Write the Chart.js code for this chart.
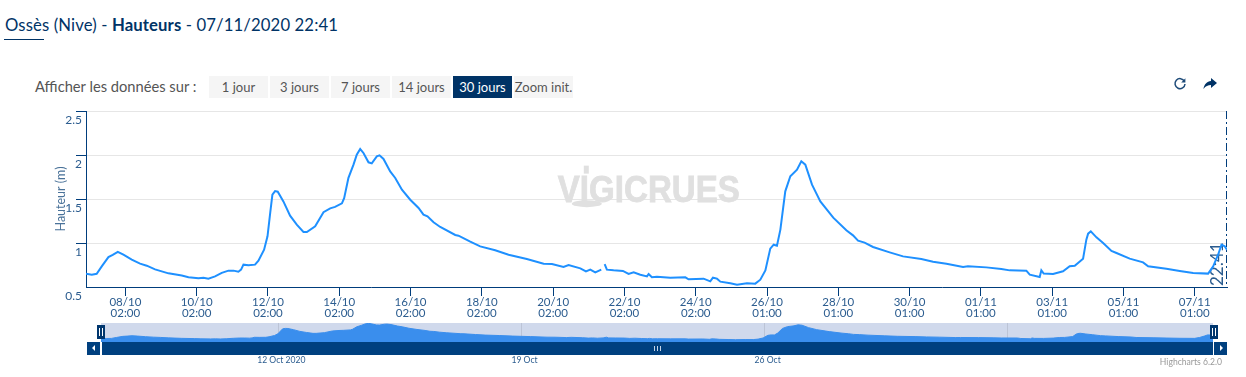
<!DOCTYPE html>
<html lang="fr">
<head>
<meta charset="utf-8">
<title>Ossès (Nive) - Hauteurs</title>
<script src="https://cdn.jsdelivr.net/npm/chart.js@4"></script>
<style>
  html, body { margin: 0; padding: 0; background: #fff; overflow: hidden; }
  body { width: 1246px; height: 377px; position: relative; font-family: Lato, 'Open Sans', sans-serif; color: #003366; }
  canvas { position: absolute; left: 0; }
  .abs { position: absolute; }
  #title { left: 5px; top: 14px; font-size: 16.7px; line-height: 22px; white-space: nowrap; letter-spacing: .12px; }
  #rule { left: 4px; top: 39px; width: 40px; height: 1px; background: #003366; }
  #show { left: 35px; top: 75px; line-height: 22px; font-size: 14.7px; color: #555; white-space: nowrap; }
  .btn { top: 76px; width: 59px; height: 22px; line-height: 22px; background: #f5f5f5; color: #555; font-size: 13px; text-align: center; white-space: nowrap; }
  .btn.on { background: #003366; color: #fff; }
  .bar { background: #00407f; top: 342px; height: 13px; }
  .handle { background: #00366e; top: 325px; width: 8px; height: 14px; }
  .handle i { position: absolute; top: 3px; width: 1px; height: 8px; background: #fff; }
  .tri { width: 0; height: 0; border-top: 3px solid transparent; border-bottom: 3px solid transparent; top: 345px; }
  .grip { top: 346px; width: 1px; height: 5px; background: #c5d3e6; }
  #credit { right: 24px; top: 357px; font-size: 8.6px; color: #999; white-space: nowrap; }
</style>
</head>
<body>
<div class="abs" id="title">Ossès (Nive) - <b>Hauteurs</b> - 07/11/2020 22:41</div>
<div class="abs" id="rule"></div>
<div class="abs" id="show">Afficher les données sur :</div>
<div class="abs btn" style="left:209px">1 jour</div>
<div class="abs btn" style="left:270px">3 jours</div>
<div class="abs btn" style="left:331px">7 jours</div>
<div class="abs btn" style="left:392px">14 jours</div>
<div class="abs btn on" style="left:453px">30 jours</div>
<div class="abs btn" style="left:514px">Zoom init.</div>

<svg class="abs" style="left:1173px;top:77px" width="14" height="14" viewBox="0 0 14 14">
  <path d="M11.4 4.2A5 5 0 1 0 12 7" fill="none" stroke="#1d4a78" stroke-width="1.5"/>
  <path d="M12.4 1.2v4.2H8.2z" fill="#1d4a78"/>
</svg>
<svg class="abs" style="left:1203px;top:78px" width="14" height="12" viewBox="0 0 14 12">
  <path d="M8 0l6 5-6 5V7C5 7 2.500 8 .5 11 1 6.500 4 3.200 8 3z" fill="#003366"/>
</svg>

<canvas id="mainChart" width="1246" height="220" style="top:100px"></canvas>
<canvas id="navChart" width="1246" height="62" style="top:315px"></canvas>

<div class="abs bar" style="left:87px;width:13px"></div>
<div class="abs tri" style="left:92px;border-right:3px solid #fff"></div>
<div class="abs bar" style="left:102px;width:1111px"></div>
<div class="abs grip" style="left:654px"></div>
<div class="abs grip" style="left:657px"></div>
<div class="abs grip" style="left:660px"></div>
<div class="abs bar" style="left:1214px;width:13px"></div>
<div class="abs tri" style="left:1220px;border-left:3px solid #fff"></div>
<div class="abs handle" style="left:97px"><i style="left:2px"></i><i style="left:5px"></i></div>
<div class="abs handle" style="left:1210px"><i style="left:2px"></i><i style="left:5px"></i></div>
<div class="abs" id="credit">Highcharts 6.2.0</div>

<script>
// heures depuis le 08/10 02:00
var hourValues = [
  -26.5, -22.6, -19.3, -15.9, -11.4, -8.5, -5.1, -1.3, 4.3, 9.9, 14.4, 20, 29, 38, 42.5, 49.2, 52.6, 55.9, 60.4, 64.9,
  69.4, 72.8, 76.1, 77.9, 79.5, 82.9, 87.3, 89.6, 93.4, 95.7, 97.5, 99, 100.8, 102.6, 106.4, 110.9, 115.4, 119.9, 122.2, 127.8,
  133.4, 137.9, 141.2, 145.8, 147.3, 150.2, 153.6, 155.8, 158.1, 160.3, 163.7, 165.9, 169.3, 171.1, 173.8, 178.3, 181.7, 186.2, 191.8, 197.4,
  200.7, 203.4, 207.5, 212, 222.1, 224.3, 232.2, 238.9, 249, 258, 270.3, 281.6, 287.2, 295, 298.4, 306.3, 310.1, 313, 316.4, 320.4,
  321.5, 322.7, 324.2, 328.7, 335, 338.8, 342.2, 346.7, 351.2, 352.3, 354.5, 357.9, 366.9, 377, 379.2, 389.3, 393.8, 395.6, 398.3, 400.6,
  407.3, 411.8, 418.5, 424.1, 427.5, 430.9, 434.2, 436.5, 438.7, 441, 444.3, 447.7, 452.2, 455.1, 457.8, 462.3, 467.9, 476.6, 485.4, 489.9,
  493.3, 497.7, 503.4, 514.6, 523.6, 535.9, 543.8, 552.8, 564, 567.3, 579.7, 589.8, 595.4, 606.6, 608.9, 615.6, 616.7, 618.3, 624.6, 631.3,
  635.8, 639.2, 644.8, 647, 648.2, 650, 653.8, 658.3, 663.9, 667.3, 676.2, 685.2, 688.6, 700.9, 709.9, 718.9, 729, 732.4, 735.7, 738,
  740.2, 741.7
];
var heightValues = [
  0.652, 0.64, 0.65, 0.735, 0.84, 0.864, 0.9, 0.867, 0.81, 0.765, 0.742, 0.7, 0.655, 0.63, 0.61, 0.6, 0.606, 0.595, 0.62, 0.66,
  0.686, 0.686, 0.674, 0.697, 0.754, 0.746, 0.754, 0.8, 0.924, 1.076, 1.34, 1.55, 1.59, 1.583, 1.473, 1.31, 1.208, 1.125, 1.125, 1.19,
  1.35, 1.394, 1.41, 1.45, 1.51, 1.74, 1.89, 2.004, 2.068, 2.023, 1.917, 1.905, 1.985, 1.996, 1.955, 1.814, 1.739, 1.606, 1.492, 1.398,
  1.322, 1.303, 1.235, 1.182, 1.091, 1.083, 1.015, 0.962, 0.917, 0.867, 0.818, 0.765, 0.761, 0.727, 0.75, 0.712, 0.678, 0.697, 0.667, 0.697,
  null, 0.761, 0.697, 0.689, 0.682, 0.648, 0.667, 0.64, 0.621, 0.648, 0.61, 0.617, 0.606, 0.61, 0.587, 0.595, 0.564, 0.606, 0.595, 0.561,
  0.542, 0.527, 0.542, 0.538, 0.583, 0.689, 0.936, 0.981, 0.97, 1.152, 1.587, 1.758, 1.833, 1.928, 1.89, 1.663, 1.473, 1.288, 1.144, 1.087,
  1.027, 1.004, 0.955, 0.894, 0.848, 0.818, 0.788, 0.765, 0.727, 0.735, 0.723, 0.705, 0.689, 0.686, 0.64, 0.614, 0.689, 0.652, 0.648, 0.678,
  0.735, 0.742, 0.822, 1.038, 1.106, 1.133, 1.064, 1, 0.909, 0.886, 0.822, 0.78, 0.735, 0.708, 0.682, 0.659, 0.652, 0.735, 0.867, 0.981,
  0.962, 0.924
];
var tickHours = [0, 48, 96, 144, 192, 240, 288, 336, 384, 432, 480, 528, 576, 624, 672, 720];
var tickDates = ['08/10', '10/10', '12/10', '14/10', '16/10', '18/10', '20/10', '22/10', '24/10', '26/10', '28/10', '30/10', '01/11', '03/11', '05/11', '07/11'];
var tickTimes = ['02:00', '02:00', '02:00', '02:00', '02:00', '02:00', '02:00', '02:00', '02:00', '01:00', '01:00', '01:00', '01:00', '01:00', '01:00', '01:00'];
var navHours = [96, 264, 432, 600];
var navLabels = ['12 Oct 2020', '19 Oct', '26 Oct', ''];
var nowHour = 741.7;
var nowLabel = '22:41';

var DARK = '#003d7c';
var LABEL = '#2b5c8f';
var FONT = "Lato, 'Open Sans', sans-serif";
var NARROW = "'Liberation Sans Narrow', Lato, sans-serif";

var points = hourValues.map(function(h, i) { return { x: h, y: heightValues[i] }; });

var mainDecor = {
  id: 'mainDecor',
  beforeDatasetsDraw: function(chart) {
    var c = chart.ctx, a = chart.chartArea;
    // filigrane
    var wmLeft = a.left + (a.right - a.left) * 0.4135;
    var wmBase = a.top + (a.bottom - a.top) * 0.515;
    c.save();
    c.fillStyle = '#e0e0e0';
    c.strokeStyle = '#e0e0e0';
    c.lineWidth = 0.8;
    c.font = 'bold 36px "Liberation Sans", sans-serif';
    var w = c.measureText('VIGICRUES').width;
    c.translate(wmLeft, wmBase);
    c.scale(182 / w, 1);
    c.textAlign = 'left';
    c.textBaseline = 'alphabetic';
    c.fillText('VIGICRUES', 0, 0);
    c.strokeText('VIGICRUES', 0, 0);
    c.restore();
    c.save();
    c.fillStyle = '#e0e0e0';
    c.fillRect(wmLeft + 26, wmBase - 36, 5, 8);
    c.beginPath();
    c.ellipse(wmLeft + 29, wmBase + 2, 15, 3.5, 0, 0, Math.PI * 2);
    c.fill();
    c.restore();
    // ligne de l'heure courante
    var x = Math.floor(chart.scales.x.getPixelForValue(nowHour)) - 0.5;
    c.save();
    c.strokeStyle = DARK;
    c.lineWidth = 1;
    c.setLineDash([8, 3, 2, 3]);
    c.beginPath();
    c.moveTo(x, a.top);
    c.lineTo(x, a.bottom);
    c.stroke();
    c.setLineDash([]);
    c.translate(x - 4, a.bottom - 1);
    c.rotate(-Math.PI / 2);
    c.fillStyle = LABEL;
    c.font = '17px ' + FONT;
    c.textAlign = 'left';
    c.textBaseline = 'alphabetic';
    c.fillText(nowLabel, 0, 0);
    c.restore();
  }
};

new Chart(document.getElementById('mainChart').getContext('2d'), {
  type: 'line',
  data: { datasets: [{ data: points, borderColor: '#1e90ff', borderWidth: 2, pointRadius: 0, tension: 0, spanGaps: false }] },
  options: {
    responsive: false,
    animation: false,
    layout: { padding: { left: 0, right: 19, top: 11, bottom: 0 } },
    plugins: { legend: { display: false }, tooltip: { enabled: false } },
    scales: {
      x: {
        type: 'linear',
        min: -26.5,
        max: 741.7,
        afterFit: function(s) { s.height = 33; s.paddingLeft = 0; s.paddingRight = 0; },
        afterBuildTicks: function(s) { s.ticks = tickHours.map(function(h) { return { value: h }; }); },
        grid: { drawOnChartArea: false, tickLength: 9, tickColor: DARK },
        border: { color: DARK, width: 1 },
        ticks: {
          autoSkip: false, maxRotation: 0, padding: 0, color: LABEL,
          font: { family: NARROW, size: 11.5, lineHeight: '11.7px' },
          callback: function(v, i) { return [tickDates[i], tickTimes[i]]; }
        }
      },
      y: {
        min: 0.5,
        max: 2.5,
        afterFit: function(s) { s.width = 86; s.paddingTop = 0; s.paddingBottom = 0; },
        grid: {
          color: '#e6e6e6', tickLength: 10,
          tickColor: function(ctx) { return ctx.tick && ctx.tick.value === 0.5 ? 'transparent' : DARK; }
        },
        border: { color: DARK, width: 1 },
        title: { display: true, text: 'Hauteur (m)', color: '#4a7299', font: { family: FONT, size: 12.5, lineHeight: 1.2 }, padding: { top: 53, bottom: 0 } },
        ticks: {
          stepSize: 0.5, padding: -6, color: LABEL,
          font: { family: FONT, size: 12, lineHeight: '19px' },
          callback: function(v) { return ['', String(v)]; }
        }
      }
    }
  },
  plugins: [mainDecor]
});

var navBg = {
  id: 'navBg',
  beforeDraw: function(chart) {
    var a = chart.chartArea;
    chart.ctx.save();
    chart.ctx.fillStyle = '#d0d9ec';
    chart.ctx.fillRect(a.left, a.top, a.right - a.left, a.bottom - a.top);
    chart.ctx.restore();
  }
};

new Chart(document.getElementById('navChart').getContext('2d'), {
  type: 'line',
  data: { datasets: [{ data: points.filter(function(p) { return p.y !== null; }), borderColor: '#3a8eed', backgroundColor: '#3a8eed', borderWidth: 1, pointRadius: 0, fill: 'start', tension: 0 }] },
  options: {
    responsive: false,
    animation: false,
    layout: { padding: { left: 101, right: 33, top: 8, bottom: 0 } },
    plugins: { legend: { display: false }, tooltip: { enabled: false } },
    scales: {
      x: {
        type: 'linear',
        min: -26.5,
        max: 741.7,
        afterFit: function(s) { s.height = 35; s.paddingLeft = 0; s.paddingRight = 0; },
        afterBuildTicks: function(s) { s.ticks = navHours.map(function(h) { return { value: h }; }); },
        grid: { color: '#bcc4d6', drawTicks: false },
        border: { display: false },
        ticks: {
          autoSkip: false, maxRotation: 0, padding: 13, labelOffset: 3, color: LABEL,
          font: { family: FONT, size: 8.6 },
          callback: function(v, i) { return navLabels[i]; }
        }
      },
      y: { display: false, min: 0.31, max: 2.1 }
    }
  },
  plugins: [navBg]
});
</script>
</body>
</html>
